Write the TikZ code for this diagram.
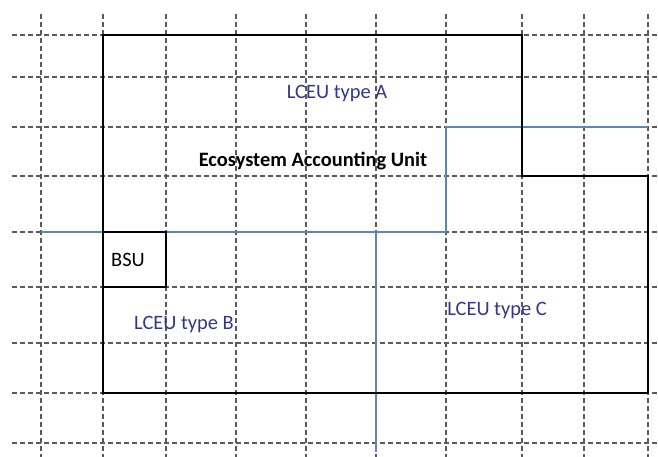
\documentclass[tikz,border=0pt]{standalone}
\usepackage{fontspec}
\setmainfont{Carlito}
\definecolor{gridgray}{HTML}{5A5A5A}
\definecolor{lineblue}{HTML}{5B86B8}
\definecolor{textblue}{HTML}{34378A}
\tikzset{
  gridline/.style={draw=gridgray, line width=1.4bp, dash pattern=on 5bp off 3bp},
  outline/.style={draw=black, line width=1.8bp},
  bluel/.style={draw=lineblue, line width=1.8bp},
  bluetext/.style={text=textblue, font=\fontsize{20.5}{23}\selectfont, inner sep=0pt},
  blacktext/.style={text=black, font=\fontsize{20.5}{23}\selectfont, inner sep=0pt}
}
\begin{document}
\begin{tikzpicture}[x=1bp,y=-1bp]
\useasboundingbox[fill=white] (0,0) rectangle (658,457);
% grid
\foreach \gx in {41,103,166,236,306,376,446,522,584,648}
  \draw[gridline] (\gx,14) -- (\gx,457);
\foreach \gy in {35,77,127,176,232,287,343,393,443}
  \draw[gridline] (12,\gy) -- (658,\gy);
% blue lines
\coordinate (b1) at (41,232);
\coordinate (b2) at (446,232);
\coordinate (b3) at (446,127);
\coordinate (b4) at (648,127);
\coordinate (v1) at (376,232);
\coordinate (v2) at (376,452);
\draw[bluel] (b1) -- (b2) -- (b3) -- (b4);
\draw[bluel] (v1) -- (v2);
% outline
\draw[outline, line join=miter] (103,35) -- (522,35) -- (522,176) -- (648,176) -- (648,393) -- (103,393) -- cycle;
% BSU
\draw[outline] (103,232) -- (166,232) -- (166,287) -- (103,287);
% texts
\node[bluetext] (ta) at (337,94) {LCEU type A};
\node[blacktext, font=\fontsize{20.5}{23}\selectfont\bfseries] (eau) at (313,161) {Ecosystem Accounting Unit};
\node[blacktext] (bsu) at (128,260) {BSU};
\node[bluetext] (tb) at (184,325) {LCEU type B};
\node[bluetext] (tc) at (497,311) {LCEU type C};
\end{tikzpicture}
\end{document}
